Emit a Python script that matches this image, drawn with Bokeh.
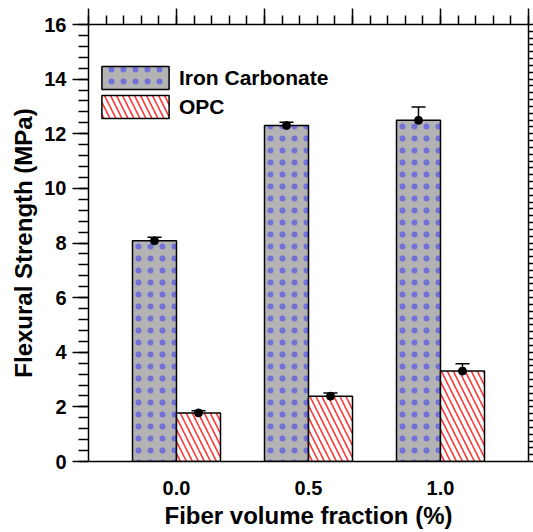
from bokeh.plotting import figure
from bokeh.models import (Range1d, LinearAxis, FixedTicker, SingleIntervalTicker, CustomJSTickFormatter,
                          ColumnDataSource, Whisker, TeeHead, Legend, LegendItem)
from bokeh.embed import file_html
from bokeh.resources import INLINE
import numpy as np

# ---- data ----
fractions = [0.0, 0.5, 1.0]
tick_labels = ["0.0", "0.5", "1.0"]
iron_carbonate = [8.08, 12.30, 12.49]
iron_carbonate_err = [0.13, 0.12, 0.49]
opc = [1.78, 2.39, 3.31]
opc_err = [0.08, 0.12, 0.27]
series_names = ["Iron Carbonate", "OPC"]

FONT = "Liberation Sans"
bar_w = 1 / 6
off = bar_w / 2

p = figure(width=533, height=532, output_backend="svg", toolbar_location=None,
           x_range=Range1d(-1 / 3, 4 / 3), y_range=Range1d(0, 16),
           min_border_left=88, min_border_right=5, min_border_top=24, min_border_bottom=71)
p.xgrid.visible = False
p.ygrid.visible = False
p.outline_line_color = None
p.background_fill_color = "white"
p.border_fill_color = "white"

x = np.array(fractions)
src_ic = ColumnDataSource(dict(x=x - off, top=iron_carbonate,
                               upper=np.array(iron_carbonate) + np.array(iron_carbonate_err),
                               lower=np.array(iron_carbonate) - np.array(iron_carbonate_err)))
src_opc = ColumnDataSource(dict(x=x + off, top=opc,
                                upper=np.array(opc) + np.array(opc_err),
                                lower=np.array(opc) - np.array(opc_err)))

r_ic = p.vbar(x="x", top="top", bottom=0, width=bar_w, source=src_ic,
              fill_color="#b3b3b3", line_color="black", line_width=1.5,
              hatch_pattern=".", hatch_color="#2f2fff", hatch_alpha=0.5,
              hatch_scale=12, hatch_weight=0.4)
r_opc = p.vbar(x="x", top="top", bottom=0, width=bar_w, source=src_opc,
               fill_color="white", line_color="black", line_width=1.5,
               hatch_pattern="\\", hatch_color="#ff3535", hatch_scale=12, hatch_weight=1.6)

for src in (src_ic, src_opc):
    w = Whisker(source=src, base="x", upper="upper", lower="lower", dimension="height",
                line_color="black", line_width=1.5,
                upper_head=TeeHead(size=14, line_width=1.5, line_color="black"),
                lower_head=TeeHead(size=14, line_width=1.5, line_color="black"))
    p.add_layout(w)
    p.scatter(x="x", y="top", source=src, size=8, color="black")

# bottom axis
xa = p.xaxis[0]
xa.ticker = FixedTicker(ticks=fractions, minor_ticks=[])
xa.major_label_overrides = {f: l for f, l in zip(fractions, tick_labels)}
xa.major_tick_out = 0
xa.major_tick_in = 0
xa.minor_tick_out = 0
xa.minor_tick_in = 0
xa.axis_label = "Fiber volume fraction (%)"
xa.major_label_standoff = 19
xa.axis_label_standoff = 4

# left axis
ya = p.yaxis[0]
ya.ticker = SingleIntervalTicker(interval=2, num_minor_ticks=5)
ya.major_tick_out = 16
ya.major_tick_in = 0
ya.minor_tick_out = 10
ya.minor_tick_in = 0
ya.axis_label = "Flexural Strength (MPa)"
ya.major_label_standoff = 6
ya.axis_label_standoff = 4

blank = CustomJSTickFormatter(code="return ''")
top = LinearAxis(ticker=SingleIntervalTicker(interval=1 / 3, num_minor_ticks=5),
                 formatter=blank, major_tick_out=16, major_tick_in=0,
                 minor_tick_out=9, minor_tick_in=0, major_label_standoff=0)
right = LinearAxis(ticker=SingleIntervalTicker(interval=0.25, num_minor_ticks=0),
                   formatter=blank, major_tick_out=5, major_tick_in=0,
                   minor_tick_out=0, minor_tick_in=0, major_label_standoff=0)
p.add_layout(top, "above")
p.add_layout(right, "right")

for ax in (xa, ya, top, right):
    ax.axis_line_color = "black"
    ax.axis_line_width = 1.5
    ax.major_tick_line_color = "black"
    ax.major_tick_line_width = 1.5
    ax.minor_tick_line_color = "black"
    ax.minor_tick_line_width = 1.5
    ax.major_label_text_font = FONT
    ax.major_label_text_font_style = "bold"
    ax.major_label_text_font_size = "20px"
    ax.major_label_text_color = "black"
    ax.axis_label_text_font = FONT
    ax.axis_label_text_font_style = "bold"
    ax.axis_label_text_font_size = "24px"
    ax.axis_label_text_color = "black"

legend = Legend(items=[LegendItem(label=series_names[0], renderers=[r_ic]),
                       LegendItem(label=series_names[1], renderers=[r_opc])],
                location=(5, 340), padding=0, margin=0, spacing=0,
                glyph_width=84, glyph_height=29, label_standoff=2,
                label_text_font=FONT, label_text_font_style="bold",
                label_text_font_size="21px", label_text_color="black",
                border_line_color=None, background_fill_alpha=0)
p.add_layout(legend, "center")

open("out.html", "w").write(file_html(p, INLINE))
